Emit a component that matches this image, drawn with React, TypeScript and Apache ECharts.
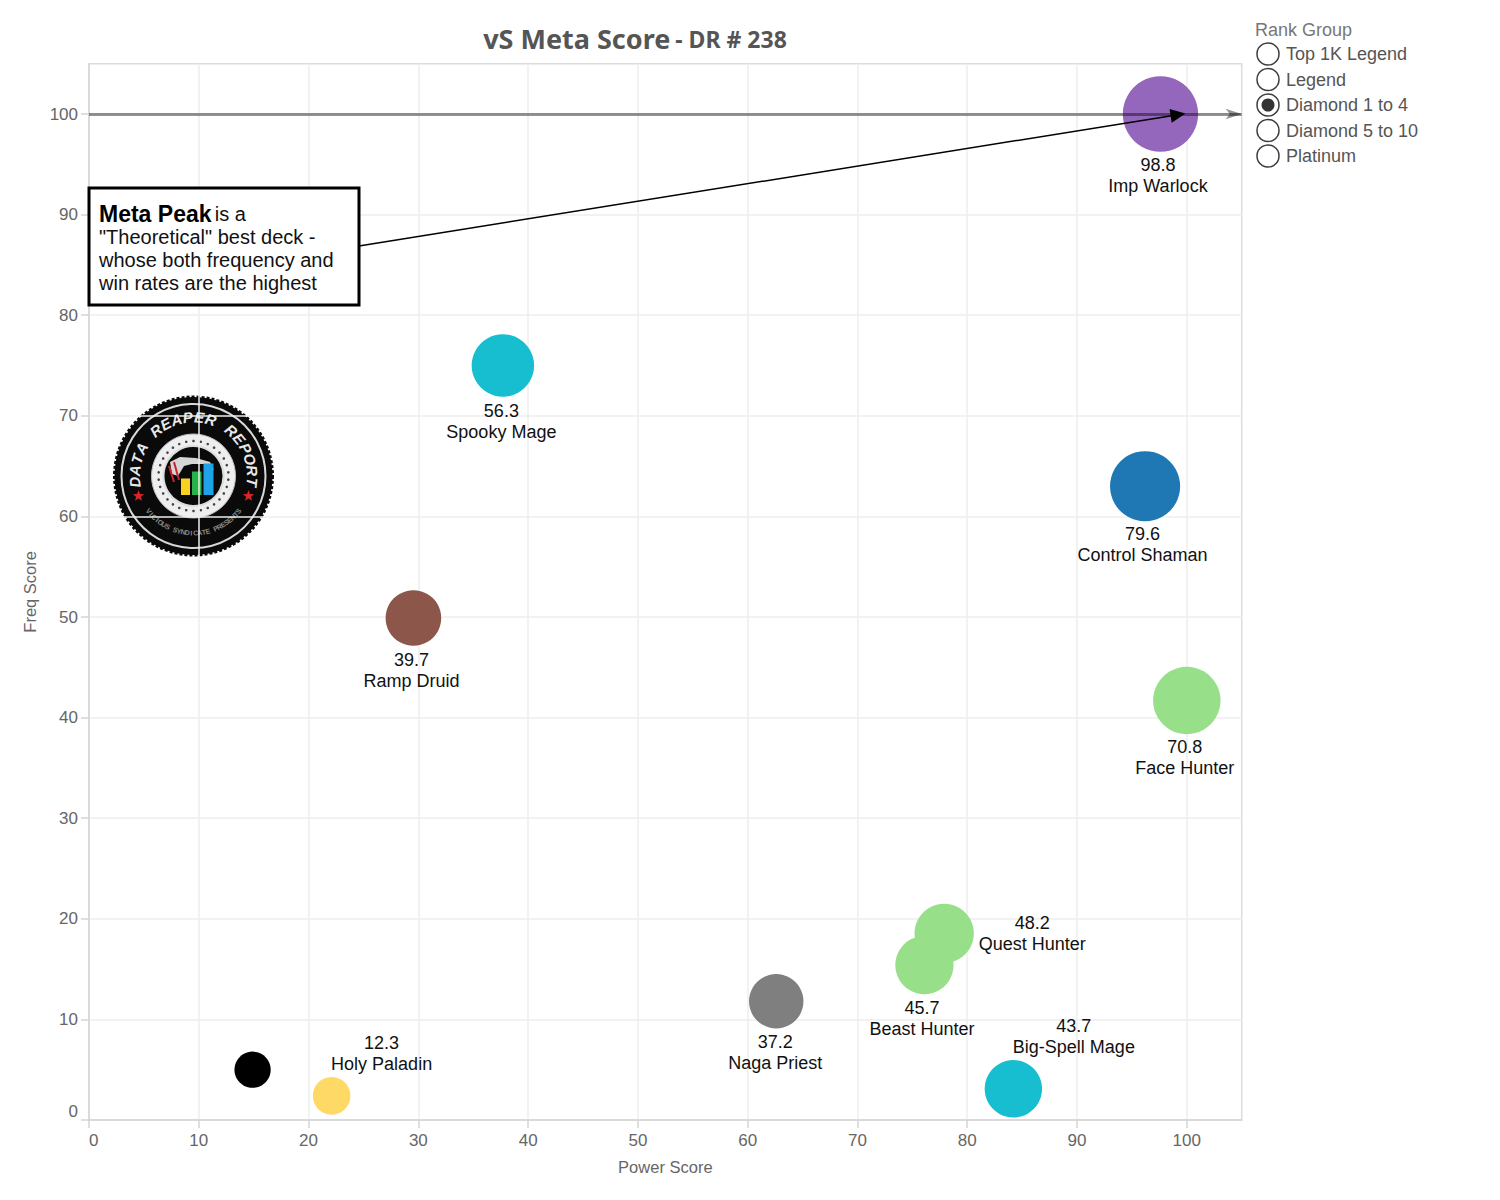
import { useEffect, useRef } from "react";
import * as echarts from "echarts";

const deckNames = ["Imp Warlock", "Control Shaman", "Face Hunter", "Spooky Mage", "Ramp Druid", "Quest Hunter", "Beast Hunter", "Naga Priest", "Big-Spell Mage", "Holy Paladin", ""];
const powerScores = [97.6, 96.2, 100, 37.7, 29.55, 77.9, 76.1, 62.6, 84.2, 22.1, 14.9];
const freqScores = [100, 63, 41.7, 75, 49.9, 18.55, 15.4, 11.8, 3.1, 2.4, 5];
const metaScores = [98.8, 79.6, 70.8, 56.3, 39.7, 48.2, 45.7, 37.2, 43.7, 12.3, 11];
const deckColors = ["#9467bd", "#1f77b4", "#98df8a", "#17becf", "#8c564b", "#98df8a", "#98df8a", "#7f7f7f", "#17becf", "#ffd966", "#000000"];
// label centre relative to the bubble centre
const labelOffsets = [[-2.5, 61.5], [-2.5, 58.5], [-2, 57.5], [-1.5, 55.5], [-2, 52], [88, 0.5], [-2.5, 53.5], [-1, 51.5], [60.5, -52], [50, -42], [0, 0]];

const xTicks = [0, 10, 20, 30, 40, 50, 60, 70, 80, 90, 100];
const yTicks = [0, 10, 20, 30, 40, 50, 60, 70, 80, 90, 100];

const rankGroups = ["Top 1K Legend", "Legend", "Diamond 1 to 4", "Diamond 5 to 10", "Platinum"];
const rankGroupY = [54, 79.5, 105, 130.5, 156];
const selectedRank = 2;

const SANS = '"Liberation Sans", Arial, sans-serif';

function legendElements() {
  const items: any[] = [
    { type: "text", x: 1255, y: 30, style: { text: "Rank Group", font: `18px ${SANS}`, fill: "#777777", verticalAlign: "middle" } },
  ];
  rankGroups.forEach((name, i) => {
    items.push({
      type: "circle",
      shape: { cx: 1268, cy: rankGroupY[i], r: 11 },
      style: { fill: "#fff", stroke: "#3c3c3c", lineWidth: 1.5 },
    });
    if (i === selectedRank) {
      items.push({ type: "circle", shape: { cx: 1268, cy: rankGroupY[i], r: 6.5 }, style: { fill: "#333333" } });
    }
    items.push({
      type: "text",
      x: 1286,
      y: rankGroupY[i],
      style: { text: name, font: `18px ${SANS}`, fill: "#555555", verticalAlign: "middle" },
    });
  });
  return items;
}

function calloutElements() {
  return [
    {
      type: "rect",
      z: 20,
      shape: { x: 89, y: 188, width: 270, height: 117 },
      style: { fill: "#ffffff", stroke: "#000000", lineWidth: 3 },
    },
    {
      type: "text",
      z: 21,
      x: 99,
      y: 202,
      style: {
        text: '{b|Meta Peak} {n|is a}\n{n|"Theoretical" best deck -}\n{n|whose both frequency and}\n{n|win rates are the highest}',
        rich: {
          b: { font: `bold 23px ${SANS}`, fill: "#000", lineHeight: 23 },
          n: { font: `20px ${SANS}`, fill: "#111", lineHeight: 23 },
        },
      },
    },
  ];
}

// the round badge, letters laid out one by one round the ring
function arcLetters(text: string, cx: number, cy: number, r: number, start: number, end: number, bottom: boolean, font: string, fill: string) {
  const chars = text.split("");
  return chars.map((ch, i) => {
    const a = ((start + ((end - start) * i) / (chars.length - 1)) * Math.PI) / 180;
    return {
      type: "text",
      x: cx + r * Math.sin(a),
      y: cy - r * Math.cos(a),
      rotation: bottom ? Math.PI - a : -a,
      style: { text: ch, font, fill, align: "center", verticalAlign: "middle" },
    };
  });
}

function star(cx: number, cy: number, r: number) {
  const points: number[][] = [];
  for (let i = 0; i < 10; i++) {
    const a = (i * Math.PI) / 5;
    const rr = i % 2 === 0 ? r : r * 0.42;
    points.push([cx + rr * Math.sin(a), cy - rr * Math.cos(a)]);
  }
  return { type: "polygon", shape: { points }, style: { fill: "#d8232a" } };
}

function logoElements() {
  const cx = 193.5;
  const cy = 476;
  const dots: any[] = [];
  for (let i = 0; i < 30; i++) {
    const a = (i * Math.PI) / 15;
    dots.push({ type: "circle", shape: { cx: cx + 35 * Math.sin(a), cy: cy - 35 * Math.cos(a), r: 1.3 }, style: { fill: "#444" } });
  }
  return [
    { type: "circle", shape: { cx, cy, r: 79 }, style: { fill: "#0a0a0a", stroke: "#0a0a0a", lineWidth: 3, lineDash: [3, 2] } },
    { type: "circle", shape: { cx, cy, r: 72 }, style: { fill: "none", stroke: "#d8d8d8", lineWidth: 2 } },
    ...arcLetters("DATA REAPER REPORT", cx, cy, 59, -96, 96, false, `italic bold 15px ${SANS}`, "#e8e8e8"),
    ...arcLetters("VICIOUS SYNDICATE PRESENTS", cx, cy, 57, 232, 128, true, `bold 7px ${SANS}`, "#8a8a8a"),
    star(cx - 55, cy + 20, 6),
    star(cx + 55, cy + 20, 6),
    { type: "circle", shape: { cx, cy, r: 42 }, style: { fill: "#eeeeee", stroke: "#bbbbbb", lineWidth: 1 } },
    ...dots,
    { type: "circle", shape: { cx, cy, r: 30 }, style: { fill: "#0a0a0a", stroke: "#dddddd", lineWidth: 2 } },
    { type: "polygon", shape: { points: [[170, 462], [180, 457], [196, 458], [210, 462], [214, 470], [204, 464], [192, 464], [184, 466], [178, 476], [172, 474]] }, style: { fill: "#d5d5d5" } },
    { type: "polyline", shape: { points: [[169, 466], [174, 482]] }, style: { stroke: "#c8242b", lineWidth: 2, fill: "none" } },
    { type: "polyline", shape: { points: [[174, 462], [179, 480]] }, style: { stroke: "#c8242b", lineWidth: 2, fill: "none" } },
    { type: "rect", shape: { x: 181, y: 478.5, width: 9, height: 16.5 }, style: { fill: "#f7d21e" } },
    { type: "rect", shape: { x: 192, y: 471.5, width: 9.5, height: 23.5 }, style: { fill: "#28b44a" } },
    { type: "rect", shape: { x: 203.5, y: 463.5, width: 10, height: 31.5 }, style: { fill: "#1fa3e8" } },
  ];
}

export default function App() {
  const chartRef = useRef<HTMLDivElement>(null);

  useEffect(() => {
    if (!chartRef.current) return;
    const chart = echarts.init(chartRef.current, null, { renderer: "svg" });

    const seriesData = deckNames.map((name, i) => ({
      name,
      value: [powerScores[i], freqScores[i], metaScores[i]],
      itemStyle: { color: deckColors[i], opacity: 1 },
      label: {
        show: name !== "",
        position: "inside" as const,
        align: "center" as const,
        verticalAlign: "middle" as const,
        offset: labelOffsets[i],
        formatter: `${metaScores[i]}\n${name}`,
        fontFamily: SANS,
        fontSize: 18,
        lineHeight: 21,
        color: "#111111",
      },
    }));

    const axisCommon = {
      type: "value" as const,
      nameLocation: "middle" as const,
      nameTextStyle: { color: "#666666", fontFamily: SANS, fontSize: 16.5 },
      axisLine: { show: true, lineStyle: { color: "#d4d4d4", width: 1.5 } },
      axisTick: { show: true, length: 8, lineStyle: { color: "#d4d4d4", width: 1.5 } },
      splitLine: { show: true, lineStyle: { color: "#eeeeee", width: 1.5 } },
    };

    chart.setOption({
      animation: false,
      title: {
        left: 630,
        top: 20,
        textAlign: "center",
        text: "{a|vS Meta Score} {b|- DR # 238}",
        textStyle: {
          rich: {
            a: { fontFamily: '"Noto Sans", sans-serif', fontWeight: "bold", fontSize: 27, color: "#555555" },
            b: { fontFamily: '"Noto Sans", sans-serif', fontWeight: "bold", fontSize: 23, color: "#555555" },
          },
        },
      },
      grid: {
        left: 89,
        top: 63.7,
        width: 1152.7,
        height: 1056.3,
        show: true,
        borderColor: "#dcdcdc",
        borderWidth: 1.5,
      },
      xAxis: {
        ...axisCommon,
        min: 0,
        max: 105,
        interval: 10,
        name: "Power Score",
        nameGap: 38,
        axisTick: { ...axisCommon.axisTick, customValues: xTicks },
        axisLabel: { customValues: xTicks, color: "#666666", fontFamily: SANS, fontSize: 17, margin: 12, alignMinLabel: "left" },
      },
      yAxis: {
        ...axisCommon,
        min: 0,
        max: 105,
        interval: 10,
        name: "Freq Score",
        nameGap: 48,
        axisTick: { ...axisCommon.axisTick, customValues: yTicks },
        axisLabel: { customValues: yTicks, color: "#666666", fontFamily: SANS, fontSize: 17, margin: 11, verticalAlignMinLabel: "bottom" },
      },
      series: [
        {
          type: "scatter",
          symbol: "circle",
          // bubble size follows the meta score
          symbolSize: (value: number[]) => 16.3 * Math.cbrt(value[2]),
          data: seriesData,
          silent: true,
          markLine: {
            silent: true,
            animation: false,
            label: { show: false },
            data: [
              {
                yAxis: 100,
                symbol: "none",
                lineStyle: { color: "rgba(0,0,0,0.42)", width: 3, type: "solid" },
              },
              [
                { coord: [24.59, 86.88], symbol: "none", lineStyle: { color: "#000000", width: 1.5, type: "solid" } },
                { coord: [99.2, 99.93], symbol: "triangle", symbolSize: [14, 15] },
              ],
            ],
          },
        },
      ],
      graphic: [
        { type: "group", silent: true, children: legendElements() },
        { type: "group", silent: true, z: 20, children: calloutElements() },
        { type: "group", silent: true, children: logoElements() },
      ],
    });

    return () => {
      chart.dispose();
    };
  }, []);

  return (
    <div
      ref={chartRef}
      style={{ position: "absolute", left: 0, top: 0, width: 1500, height: 1200, background: "#ffffff" }}
    />
  );
}
